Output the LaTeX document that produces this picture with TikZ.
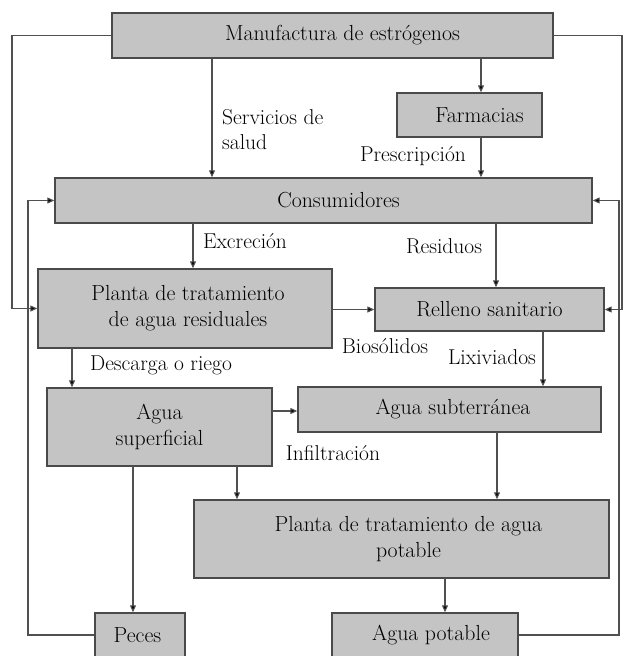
\documentclass[tikz,border=0pt]{standalone}
\usepackage{fontspec}
\usetikzlibrary{arrows.meta}
\definecolor{boxfill}{HTML}{C4C4C4}
\definecolor{boxline}{HTML}{4A4A4A}
\definecolor{conline}{HTML}{505050}
\tikzset{
  blk/.style={draw=boxline, line width=1.4pt, fill=boxfill, rectangle, inner sep=0pt, align=center, font=\fontsize{21.8}{26}\selectfont},
  lbl/.style={inner sep=0pt, font=\fontsize{21.5}{25}\selectfont},
  con/.style={draw=conline, line width=1.1pt, -{Triangle[length=7pt,width=6pt,fill=black]}},
}
\begin{document}
\begin{tikzpicture}[x=1pt,y=-1pt]
\useasboundingbox (0,0) rectangle (623,656);
\fill[white] (0,0) rectangle (623,656);
% boxes
\node[blk, minimum width=441pt, minimum height=45pt] (manu) at (332.5,35.5) {\hspace*{20pt}Manufactura de estrógenos};
\node[blk, minimum width=145pt, minimum height=44pt] (farm) at (469.5,115) {\hspace*{20pt}Farmacias};
\node[blk, minimum width=537pt, minimum height=45pt] (cons) at (323.5,200.5) {\hspace*{30pt}Consumidores};
\node[blk, minimum width=294pt, minimum height=79pt] (ptar) at (185,308.5) {\hspace*{6pt}Planta de tratamiento\\\hspace*{6pt}de agua residuales};
\node[blk, minimum width=229pt, minimum height=43pt] (rell) at (489.5,309.5) {Relleno sanitario};
\node[blk, minimum width=225pt, minimum height=78pt] (asup) at (159.5,427) {Agua\\superficial};
\node[blk, minimum width=303pt, minimum height=45pt] (asub) at (449.5,409.5) {\hspace*{7pt}Agua subterránea};
\node[blk, minimum width=415pt, minimum height=78pt] (ptap) at (401.5,539) {\hspace*{14pt}Planta de tratamiento de agua\\\hspace*{14pt}potable};
\node[blk, minimum width=90pt, minimum height=44pt] (peces) at (140,635) {Peces\hspace*{5pt}};
\node[blk, minimum width=186pt, minimum height=44pt] (apot) at (425,635) {\hspace*{12pt}Agua potable};
% corner coordinates
\coordinate (lA) at (12,35.5);
\coordinate (rA) at (622,35.5);
\coordinate (lB) at (28,635);
\coordinate (rB) at (619,635);
% connectors
\draw[con] (481,57.5) coordinate (m1) -- (m1 |- farm.north);
\draw[con] (212,57.5) coordinate (m2) -- (m2 |- cons.north);
\draw[con] (481,137) coordinate (f1) -- (f1 |- cons.north);
\draw[con] (manu.west) -- (lA) |- (ptar.west);
\draw[con] (manu.east) -- (rA) |- (rell.east);
\draw[con] (193,223) coordinate (c1) -- (c1 |- ptar.north);
\draw[con] (496,223) coordinate (c2) -- (c2 |- rell.north);
\draw[con] (ptar.east |- rell.west) -- (rell.west);
\draw[con] (543,331) coordinate (r1) -- (r1 |- asub.north);
\draw[con] (72,348) coordinate (p1) -- (p1 |- asup.north);
\draw[con] (272,411) coordinate (s1) -- (s1 -| asub.west);
\draw[con] (237,466) coordinate (s2) -- (s2 |- ptap.north);
\draw[con] (497,432) coordinate (s3) -- (s3 |- ptap.north);
\draw[con] (133,466) coordinate (s4) -- (s4 |- peces.north);
\draw[con] (445,578) coordinate (t1) -- (t1 |- apot.north);
\draw[con] (peces.west) -- (lB) |- (cons.west);
\draw[con] (apot.east) -- (rB) |- (cons.east);
% labels
\node[lbl, anchor=west, align=left] (lsal) at (222,130) {Servicios de\\salud};
\node[lbl] (lpre) at (413,156) {Prescripción};
\node[lbl] (lexc) at (245,241) {Excreción};
\node[lbl] (lres) at (444,246) {Residuos};
\node[lbl] (lbio) at (385,346) {Biosólidos};
\node[lbl] (llix) at (492,357) {Lixiviados};
\node[lbl] (ldes) at (161,365) {Descarga o riego};
\node[lbl] (linf) at (333,453) {Infiltración};
\end{tikzpicture}
\end{document}
